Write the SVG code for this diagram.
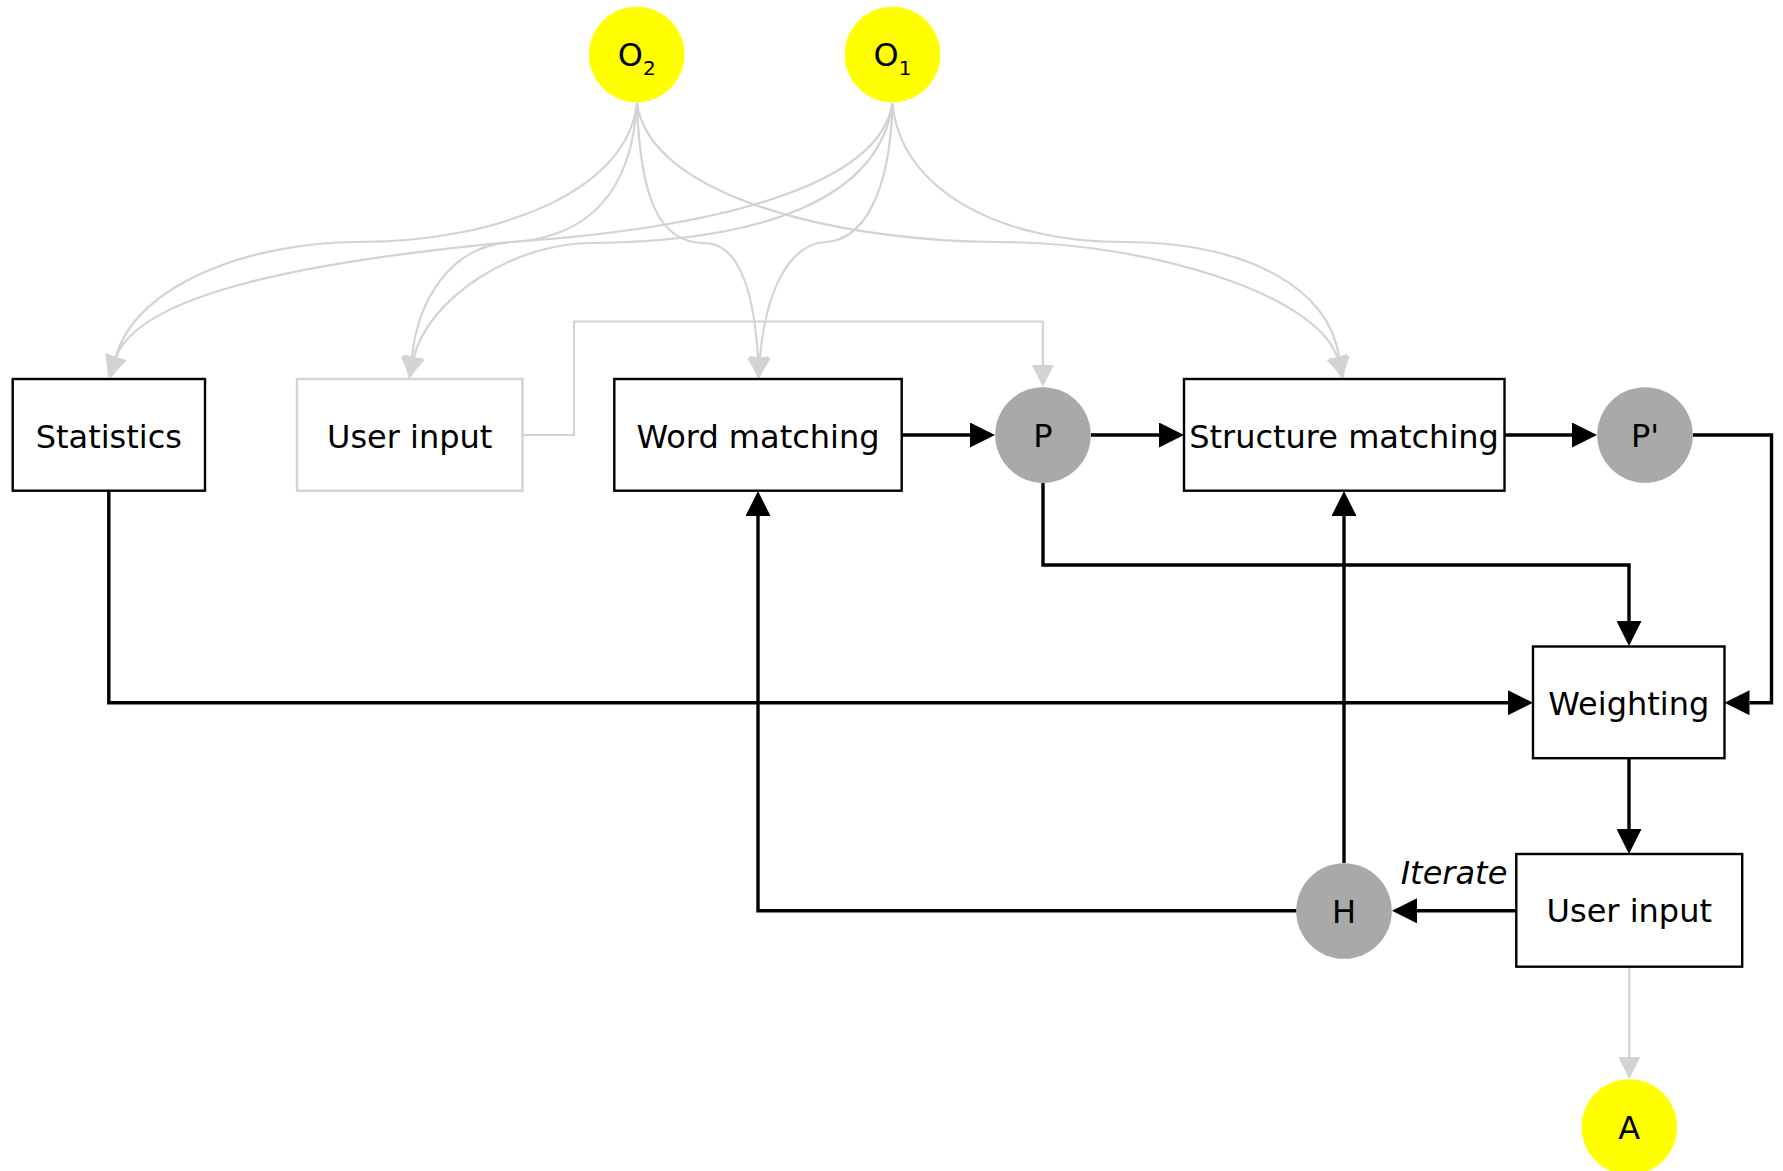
<svg xmlns="http://www.w3.org/2000/svg" width="1783" height="1171" viewBox="0 0 1783 1171">
  <style>
    text { font-family: "DejaVu Sans", Verdana, sans-serif; font-size: 32px; fill: #000; text-anchor: middle; }
    .box { fill: #fff; stroke: #000; stroke-width: 2.4; }
    .box-faint { fill: #fff; stroke: #d3d3d3; stroke-width: 2.4; }
    .src { fill: #ffff00; stroke: none; }
    .mid { fill: #a9a9a9; stroke: none; }
    .flow { fill: none; stroke: #000; stroke-width: 3.4; marker-end: url(#arrow-black); }
    .feed { fill: none; stroke: #d3d3d3; stroke-width: 2.2; marker-end: url(#arrow-gray); }
    .sub { font-size: 20px; }
    .label { font-style: italic; }
  </style>
  <defs>
    <marker id="arrow-black" markerUnits="userSpaceOnUse" markerWidth="25" markerHeight="25" refX="0" refY="12.5" orient="auto">
      <path d="M0,0 L25,12.5 L0,25 Z" fill="#000"/>
    </marker>
    <marker id="arrow-gray" markerUnits="userSpaceOnUse" markerWidth="22" markerHeight="22" refX="0" refY="11" orient="auto">
      <path d="M0,0 L22,11 L0,22 Z" fill="#d3d3d3"/>
    </marker>
  </defs>

  <!-- connectors -->
  <g id="edges">
    <!-- ontology inputs (curved, light) -->
    <path class="feed" d="M637,103 C628,190 500,242 358,242 C250,242 135,285 116,357"/>
    <path class="feed" d="M892.5,103 C880,185 720,228 511,242 C300,262 140,295 116,357"/>
    <path class="feed" d="M637,103 C632,190 590,238 511,242 C450,246 418,300 412,357"/>
    <path class="feed" d="M892.5,103 C880,200 760,242 590,243 C510,244 428,300 414,357"/>
    <path class="feed" d="M637,103 C640,200 660,243 704,243 C745,243 755,310 758,357"/>
    <path class="feed" d="M892.5,103 C890,200 860,240 826,242 C785,244 765,300 760,357"/>
    <path class="feed" d="M637,103 C650,200 850,242 998,242 C1150,242 1317,295 1337,357"/>
    <path class="feed" d="M892.5,103 C900,190 1000,242 1122,242 C1250,242 1330,290 1339,357"/>
    <!-- initial user input to P -->
    <path class="feed" d="M522.5,435 L574,435 L574,321.5 L1042.8,321.5 L1042.8,365"/>
    <!-- final user input to A -->
    <path class="feed" d="M1629.3,966.7 L1629.3,1057"/>

    <!-- main flow -->
    <path class="flow" d="M901.7,435 L970,435"/>
    <path class="flow" d="M1091,435 L1159,435"/>
    <path class="flow" d="M1504.5,435 L1572,435"/>
    <path class="flow" d="M1692.7,435 L1771.5,435 L1771.5,702.7 L1749.5,702.7"/>
    <path class="flow" d="M1043,482.7 L1043,565 L1629,565 L1629,621"/>
    <path class="flow" d="M108.8,491 L108.8,702.7 L1508,702.7"/>
    <path class="flow" d="M1629,758 L1629,829"/>
    <path class="flow" d="M1516.3,910.8 L1417,910.8"/>
    <path class="flow" d="M1296.7,910.8 L758,910.8 L758,516"/>
    <path class="flow" d="M1344,863 L1344,516"/>
    <text class="label" x="1454" y="884">Iterate</text>
  </g>

  <!-- nodes -->
  <g id="node-o2">
    <circle class="src" cx="636.7" cy="54.5" r="47.8"/>
    <text x="636.7" y="66.3" font-size="29">O<tspan class="sub" dy="8.5">2</tspan></text>
  </g>
  <g id="node-o1">
    <circle class="src" cx="892.5" cy="54.5" r="47.8"/>
    <text x="892.5" y="66.3" font-size="29">O<tspan class="sub" dy="8.5">1</tspan></text>
  </g>
  <g id="node-statistics">
    <rect class="box" x="12.7" y="379" width="192.3" height="111.7"/>
    <text x="108.8" y="448">Statistics</text>
  </g>
  <g id="node-user-input-initial">
    <rect class="box-faint" x="297" y="379" width="225.5" height="111.7"/>
    <text x="409.7" y="448">User input</text>
  </g>
  <g id="node-word-matching">
    <rect class="box" x="614.3" y="379" width="287.4" height="111.7"/>
    <text x="758" y="448">Word matching</text>
  </g>
  <g id="node-p">
    <circle class="mid" cx="1043" cy="435" r="47.8"/>
    <text x="1043" y="446.8">P</text>
  </g>
  <g id="node-structure-matching">
    <rect class="box" x="1184" y="379" width="320.5" height="111.7"/>
    <text x="1344" y="448">Structure matching</text>
  </g>
  <g id="node-p-prime">
    <circle class="mid" cx="1645" cy="435" r="47.8"/>
    <text x="1645" y="446.8">P'</text>
  </g>
  <g id="node-weighting">
    <rect class="box" x="1533" y="646.5" width="191.5" height="111.7"/>
    <text x="1628.8" y="715">Weighting</text>
  </g>
  <g id="node-user-input">
    <rect class="box" x="1516.3" y="854" width="225.9" height="112.7"/>
    <text x="1629.3" y="922">User input</text>
  </g>
  <g id="node-h">
    <circle class="mid" cx="1344" cy="911" r="47.8"/>
    <text x="1344" y="922.5">H</text>
  </g>
  <g id="node-a">
    <circle class="src" cx="1629.3" cy="1127" r="47.8"/>
    <text x="1629.3" y="1138.7">A</text>
  </g>
</svg>
